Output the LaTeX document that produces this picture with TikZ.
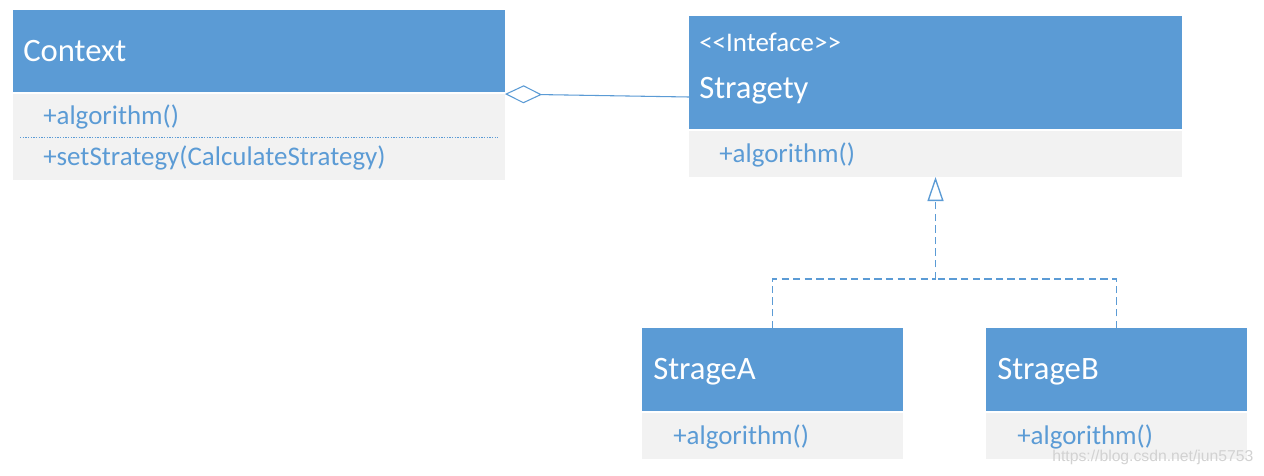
\documentclass[tikz,border=0pt]{standalone}
\usepackage{fontspec}
\newfontfamily\carl{Carlito}
\newfontfamily\wmfont{Liberation Sans}
\usetikzlibrary{arrows.meta}
\definecolor{hblue}{HTML}{5B9BD5}
\definecolor{bgray}{HTML}{F2F2F2}
\begin{document}
\begin{tikzpicture}[x=0.75pt,y=-0.75pt,
  hdr/.style={fill=hblue,draw=none,anchor=north west,inner sep=0pt,outer sep=0pt},
  bdy/.style={fill=bgray,draw=none,anchor=north west,inner sep=0pt,outer sep=0pt},
  title/.style={anchor=base west,inner sep=0pt,text=white,font=\carl\fontsize{24.5}{28}\selectfont},
  stereo/.style={anchor=base west,inner sep=0pt,text=white,font=\carl\fontsize{20.2}{24}\selectfont},
  member/.style={anchor=base west,inner sep=0pt,text=hblue,font=\carl\fontsize{20.2}{24}\selectfont},
  conn/.style={draw=hblue,line width=0.8pt},
  dl/.style={draw=hblue,line width=1pt,dash pattern=on 5.5pt off 3.2pt},
  sepline/.style={draw=hblue,line width=0.5pt,dash pattern=on 1pt off 1pt}]
\useasboundingbox[fill=white] (0,0) rectangle (1264,475);

% Context
\node[hdr,minimum width=492*0.75pt,minimum height=82*0.75pt] (cH) at (13,10) {};
\node[bdy,minimum width=492*0.75pt,minimum height=86*0.75pt] (cB) at (13,94) {};
\node[title] (cT) at (23,61) {Context};
\node[member] (cM1) at (43,124) {+algorithm()};
\node[member] (cM2) at (43,165) {+setStrategy(CalculateStrategy)};
\draw[sepline] (20,137) -- (498,137);

% Strategy
\node[hdr,minimum width=493*0.75pt,minimum height=113*0.75pt] (sH) at (689,16) {};
\node[bdy,minimum width=493*0.75pt,minimum height=46*0.75pt] (sB) at (689,131) {};
\node[stereo] (sS) at (699,51) {<<Inteface>>};
\node[title] (sT) at (699,98) {Stragety};
\node[member] (sM) at (719,162) {+algorithm()};

% StrageA
\node[hdr,minimum width=261*0.75pt,minimum height=83*0.75pt] (aH) at (642,328) {};
\node[bdy,minimum width=261*0.75pt,minimum height=46*0.75pt] (aB) at (642,413) {};
\node[title] (aT) at (653,379) {StrageA};
\node[member] (aM) at (673,444) {+algorithm()};

% StrageB
\node[hdr,minimum width=261*0.75pt,minimum height=83*0.75pt] (bH) at (986,328) {};
\node[bdy,minimum width=261*0.75pt,minimum height=46*0.75pt] (bB) at (986,413) {};
\node[title] (bT) at (997,379) {StrageB};
\node[member] (bM) at (1017,444) {+algorithm()};

% connectors
\coordinate (sIn) at (689,97);
\draw[conn,{Diamond[open,length=27.75pt,width=13.5pt]}-] (cB.north east) -- (sIn);

\coordinate (j) at (sB.south |- 0,279);
\draw[dl] (aH.north) |- (j);
\draw[dl] (bH.north) |- (j);
\draw[dl,-{Triangle[open,length=18pt,width=12pt]}] (j) -- (sB.south);

% watermark
\node[anchor=base west,inner sep=0pt,text=gray!35,font=\wmfont\fontsize{11.8}{14}\selectfont] (wm) at (1052,461) {https://blog.csdn.net/jun5753};
\end{tikzpicture}
\end{document}
